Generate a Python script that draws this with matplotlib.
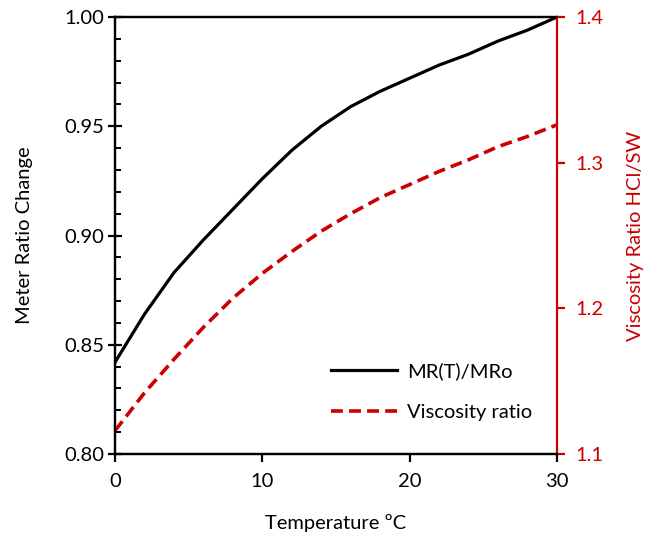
import matplotlib
matplotlib.use("Agg")
import matplotlib.pyplot as plt
from matplotlib.ticker import MultipleLocator, FormatStrFormatter

plt.rcParams['font.family'] = ['Lato', 'DejaVu Sans']

temperature = [0, 2, 4, 6, 8, 10, 12, 14, 16, 18, 20, 22, 24, 26, 28, 30]
meter_ratio = [0.842, 0.864, 0.883, 0.898, 0.912, 0.926, 0.939, 0.950, 0.959, 0.966,
               0.972, 0.978, 0.983, 0.989, 0.994, 1.000]
viscosity_ratio = [1.116, 1.142, 1.165, 1.187, 1.207, 1.224, 1.239, 1.253, 1.265, 1.276,
                   1.285, 1.294, 1.302, 1.311, 1.318, 1.326]

RED = '#CC0000'
FS = 14.5

fig = plt.figure(figsize=(6.66, 5.38), dpi=100)
ax = fig.add_axes([0.1727, 0.1561, 0.6636, 0.8123])
ax2 = ax.twinx()

l1, = ax.plot(temperature, meter_ratio, color='black', lw=2.3, label='MR(T)/MRo')
l2, = ax2.plot(temperature, viscosity_ratio, color=RED, lw=2.6, dashes=(3.3, 1.7),
               label='Viscosity ratio')

ax.set_xlim(0, 30)
ax.set_ylim(0.80, 1.00)
ax2.set_ylim(1.1, 1.4)
ax.xaxis.set_major_locator(MultipleLocator(10))
ax.yaxis.set_major_locator(MultipleLocator(0.05))
ax.yaxis.set_minor_locator(MultipleLocator(0.01))
ax2.yaxis.set_major_locator(MultipleLocator(0.1))
ax.yaxis.set_major_formatter(FormatStrFormatter('%.2f'))
ax2.yaxis.set_major_formatter(FormatStrFormatter('%.1f'))

for s in ['left', 'top', 'bottom']:
    ax.spines[s].set_linewidth(1.6)
    ax2.spines[s].set_linewidth(1.6)
ax2.spines['right'].set_color(RED)
ax2.spines['right'].set_linewidth(1.6)
ax.spines['right'].set_visible(False)

ax.tick_params(axis='x', direction='out', length=6, width=1.6, labelsize=FS, pad=8)
ax.tick_params(axis='y', which='major', direction='inout', length=10, width=1.6,
               labelsize=FS, pad=3)
ax.tick_params(axis='y', which='minor', direction='in', length=4, width=1.4)
ax2.tick_params(axis='y', direction='out', length=6, width=1.6, colors=RED,
                labelsize=FS, pad=7)

ax.set_xlabel('Temperature ºC', fontsize=FS, labelpad=17)
ax.set_ylabel('Meter Ratio Change', fontsize=FS, labelpad=22)
ax2.set_ylabel('Viscosity Ratio HCl/SW', fontsize=FS, color=RED, labelpad=17)

ax2.legend(handles=[l1, l2], loc='lower right', bbox_to_anchor=(0.985, 0.035),
           frameon=False, fontsize=FS, handlelength=3.3, labelspacing=1.15,
           handletextpad=0.5)

fig.savefig('out.png', dpi=100)
